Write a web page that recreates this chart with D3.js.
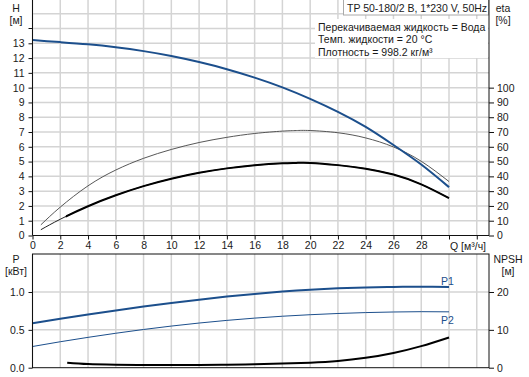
<!DOCTYPE html>
<html><head><meta charset="utf-8">
<script src="https://cdn.jsdelivr.net/npm/d3@7"></script>
<style>
body{margin:0;background:#fff;}
svg text{font-family:"Liberation Sans",Arial,sans-serif;font-size:10.5px;fill:#1a1a1a;}
</style></head>
<body><svg id="c" width="529" height="377"></svg>
<script>
// ---- data ----
const qH = [0,2,4,6,8,10,12,14,16,18,20,22,24,26,28,30];
const headH = [13.22,13.08,12.93,12.73,12.47,12.14,11.73,11.25,10.68,10.02,9.24,8.36,7.34,6.12,4.8,3.27];
const qEta = [0.6,2,4,6,8,10,12,14,16,18,19,20,22,24,26,28,30];
const etaTotal = [3.9,11,19.8,27.2,33.4,38.4,42.4,45.4,47.5,48.8,49.1,49.1,47.6,45.2,41.2,34.6,25.3];
const etaPump = [7.2,19.2,33.6,44.3,52.2,58.2,62.9,66.4,69.0,70.6,71.0,71.0,69.5,66.0,59.9,50.2,36.5];
const qP = [0,2,4,6,8,10,12,14,16,18,20,22,24,26,28,30];
const p1 = [0.587,0.647,0.703,0.756,0.807,0.855,0.899,0.939,0.975,1.006,1.031,1.049,1.061,1.067,1.069,1.067];
const p2 = [0.28,0.343,0.401,0.455,0.505,0.55,0.59,0.625,0.655,0.68,0.70,0.716,0.728,0.736,0.74,0.738];
const qN = [2.5,4,6,8,10,12,14,16,18,20,22,24,26,28,30];
const npsh = [1.3,0.95,0.8,0.72,0.7,0.72,0.8,0.92,1.08,1.32,1.75,2.6,3.9,5.7,8.0];
const xTicks = [0,2,4,6,8,10,12,14,16,18,20,22,24,26,28];
const hTicks = [0,1,2,3,4,5,6,7,8,9,10,11,12,13];
const etaTicks = [0,10,20,30,40,50,60,70,80,90,100];
const pTicks = [0,0.5,1.0];
const nTicks = [0,10,20];
const title = "TP 50-180/2 B, 1*230 V, 50Hz";
const infoLines = ["Перекачиваемая жидкость = Вода","Темп. жидкости = 20 °C","Плотность = 998.2 кг/м³"];

const svg = d3.select("#c");
const L = 32.5, R = 489;
const x = d3.scaleLinear().domain([0,30]).range([32.5,449]);
const yH = d3.scaleLinear().domain([0,13]).range([235.5,43.3]);
const yE = d3.scaleLinear().domain([0,100]).range([235.5,235.5-10*(235.5-43.3)/13]);
const yP = d3.scaleLinear().domain([0,1]).range([367.7,292]);
const yN = d3.scaleLinear().domain([0,20]).range([367.7,292]);
const top1 = 0, bot1 = 235.5, top2 = 254, bot2 = 367.7;
const grid = "#d4d4d4", blue = "#1c4f8c", ax = "#111";

svg.append("defs").append("clipPath").attr("id","thick").append("rect")
  .attr("x",x(2.4)).attr("y",0).attr("width",R-x(2.4)).attr("height",377);

// grids top
const g = svg.append("g");
const vq = d3.range(0,33,2);
g.selectAll(".v1").data(vq).join("line").attr("x1",d=>x(d)).attr("x2",d=>x(d)).attr("y1",top1).attr("y2",bot1).attr("stroke",grid).attr("stroke-width",1.5);
g.selectAll(".h1").data(d3.range(1,16)).join("line").attr("x1",L).attr("x2",R).attr("y1",d=>yH(d)).attr("y2",d=>yH(d)).attr("stroke",grid).attr("stroke-width",1.5);
// grids bottom
g.selectAll(".v2").data(vq).join("line").attr("x1",d=>x(d)).attr("x2",d=>x(d)).attr("y1",top2).attr("y2",bot2).attr("stroke",grid).attr("stroke-width",1.5);
g.selectAll(".h2").data([0.5,1.0]).join("line").attr("x1",L).attr("x2",R).attr("y1",d=>yP(d)).attr("y2",d=>yP(d)).attr("stroke",grid).attr("stroke-width",1.5);

// info box
svg.append("rect").attr("x",315).attr("y",19).attr("width",173).attr("height",39).attr("fill","#fff");
infoLines.forEach((t,i)=>svg.append("text").attr("x",318).attr("y",31+i*12.3).text(t));
svg.append("rect").attr("x",343.5).attr("y",-1).attr("width",145).attr("height",16).attr("fill","#fff").attr("stroke","#aaa");
svg.append("text").attr("x",347).attr("y",11.5).text(title);

// curves
const line = (xs,ys,ysc)=>d3.line().curve(d3.curveNatural).x((d,i)=>x(xs[i])).y(d=>ysc(d))(ys);
svg.append("path").attr("d",line(qEta,etaPump,yE)).attr("fill","none").attr("stroke","#444").attr("stroke-width",0.9);
svg.append("path").attr("d",line(qEta,etaTotal,yE)).attr("fill","none").attr("stroke","#222").attr("stroke-width",1);
svg.append("path").attr("d",line(qEta,etaTotal,yE)).attr("fill","none").attr("stroke","#000").attr("stroke-width",2).attr("clip-path","url(#thick)");
svg.append("path").attr("d",line(qH,headH,yH)).attr("fill","none").attr("stroke",blue).attr("stroke-width",2);
svg.append("path").attr("d",line(qP,p1,yP)).attr("fill","none").attr("stroke",blue).attr("stroke-width",2);
svg.append("path").attr("d",line(qP,p2,yP)).attr("fill","none").attr("stroke",blue).attr("stroke-width",1);
svg.append("path").attr("d",line(qN,npsh,yN)).attr("fill","none").attr("stroke","#000").attr("stroke-width",2);
svg.append("text").attr("x",441).attr("y",285).style("fill",blue).text("P1");
svg.append("text").attr("x",441).attr("y",323.5).style("fill",blue).text("P2");

// axes top
const axL = d3.axisLeft(yH).tickValues(hTicks).tickSize(4).tickPadding(4).tickFormat(d3.format("d"));
const gL = svg.append("g").attr("transform",`translate(${L},0)`).call(axL);
gL.select(".domain").remove();
gL.append("line").attr("x1",-4).attr("x2",0).attr("y1",yH(14)).attr("y2",yH(14)).attr("stroke",ax);
const axR = d3.axisRight(yE).tickValues(etaTicks).tickSize(5).tickPadding(3);
const gR = svg.append("g").attr("transform",`translate(${R},0)`).call(axR);
gR.select(".domain").remove();
const axB = d3.axisBottom(x).tickValues(xTicks.concat([30,32])).tickSize(4).tickPadding(2).tickFormat(d=>d>=30?"":d);
const gB = svg.append("g").attr("transform",`translate(0,${bot1})`).call(axB);
gB.select(".domain").remove();
svg.append("text").attr("x",450).attr("y",250).text("Q [м³/ч]");
// frame top
svg.append("line").attr("x1",L).attr("x2",L).attr("y1",0).attr("y2",bot1).attr("stroke",ax);
svg.append("line").attr("x1",R).attr("x2",R).attr("y1",0).attr("y2",bot1).attr("stroke",ax);
svg.append("line").attr("x1",L).attr("x2",R).attr("y1",bot1).attr("y2",bot1).attr("stroke",ax);
svg.append("text").attr("x",16).attr("y",12).attr("text-anchor","middle").text("H");
svg.append("text").attr("x",16).attr("y",24).attr("text-anchor","middle").text("[м]");
svg.append("text").attr("x",503).attr("y",12).attr("text-anchor","middle").text("eta");
svg.append("text").attr("x",503).attr("y",24).attr("text-anchor","middle").text("[%]");

// axes bottom
const aPL = d3.axisLeft(yP).tickValues(pTicks).tickSize(4).tickPadding(4).tickFormat(d3.format(".1f"));
const gPL = svg.append("g").attr("transform",`translate(${L},0)`).call(aPL);
gPL.select(".domain").remove();
const aNR = d3.axisRight(yN).tickValues(nTicks).tickSize(5).tickPadding(3);
const gNR = svg.append("g").attr("transform",`translate(${R},0)`).call(aNR);
gNR.select(".domain").remove();
svg.selectAll(".tick line").attr("stroke",ax);
svg.selectAll(".tick text").style("font-size","10.5px").style("fill","#1a1a1a");
svg.append("rect").attr("x",L).attr("y",top2).attr("width",R-L).attr("height",bot2-top2).attr("fill","none").attr("stroke",ax);
svg.append("text").attr("x",16).attr("y",263).attr("text-anchor","middle").text("P");
svg.append("text").attr("x",16).attr("y",275).attr("text-anchor","middle").text("[кВт]");
svg.append("text").attr("x",508).attr("y",263).attr("text-anchor","middle").text("NPSH");
svg.append("text").attr("x",508).attr("y",275).attr("text-anchor","middle").text("[м]");
</script></body></html>
